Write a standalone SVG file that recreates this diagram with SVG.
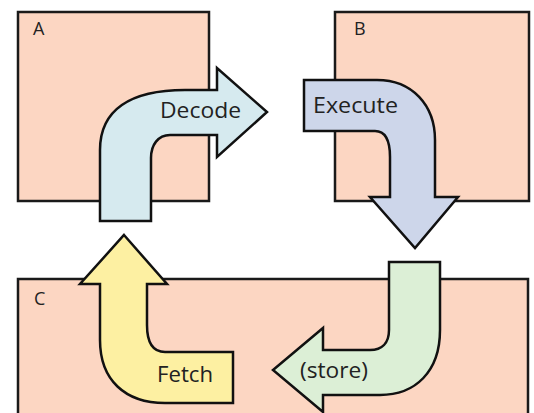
<svg xmlns="http://www.w3.org/2000/svg" width="534" height="413" viewBox="0 0 534 413">
<style>
.box{fill:#fcd6c2;stroke:#1a1a1a;stroke-width:2.5}
.arr{stroke:#111;stroke-width:2.5;stroke-linejoin:miter}
.lbl{font-family:"Open Sans","Liberation Sans",sans-serif;font-size:18px;fill:#222}
.t{font-family:"Open Sans","Liberation Sans",sans-serif;font-size:21px;fill:#222}
</style>
<rect width="534" height="413" fill="#ffffff"/>
<g id="boxA"><rect class="box" x="18" y="12" width="191" height="189"/><text class="lbl" x="33" y="35">A</text></g>
<g id="boxB"><rect class="box" x="335" y="12" width="194" height="189"/><text class="lbl" x="354" y="35">B</text></g>
<g id="boxC"><rect class="box" x="18" y="279" width="510" height="150"/><text class="lbl" x="34" y="305">C</text></g>
<g id="connectors">
<g id="decode">
<path class="arr" fill="#d6eaef" d="M100 221 L100 150 C100 110 130 90 185 90 L217 90 L217 68 L267 112 L217 157 L217 135 L170 135 C158 135 151 145 151 158 L151 221 Z"/>
<text class="t" x="160" y="118" textLength="81" lengthAdjust="spacingAndGlyphs">Decode</text>
</g>
<g id="execute">
<path class="arr" fill="#cdd6ea" d="M304 80 L377 80 C412 80 435 105 435 140 L435 197 L458 197 L415 248 L370 197 L390 197 L390 157 C390 140 385 131 375 131 L304 131 Z"/>
<text class="t" x="313" y="113" textLength="85" lengthAdjust="spacingAndGlyphs">Execute</text>
</g>
<g id="store">
<path class="arr" fill="#dcefd6" d="M389 262 L440 262 L440 330 C440 372 415 395 380 395 L323 395 L323 412 L273 370 L323 328 L323 350 L370 350 C382 350 389 343 389 330 Z"/>
<text class="t" x="300" y="378" textLength="68" lengthAdjust="spacingAndGlyphs">(store)</text>
</g>
<g id="fetch">
<path class="arr" fill="#fdf0a2" d="M124 235 L167 284 L147 284 L147 325 C147 342 152 352 165 352 L233 352 L233 403 L165 403 C125 403 100 380 100 340 L100 284 L80 284 Z"/>
<text class="t" x="157" y="382" textLength="56" lengthAdjust="spacingAndGlyphs">Fetch</text>
</g>
</g>
</svg>
